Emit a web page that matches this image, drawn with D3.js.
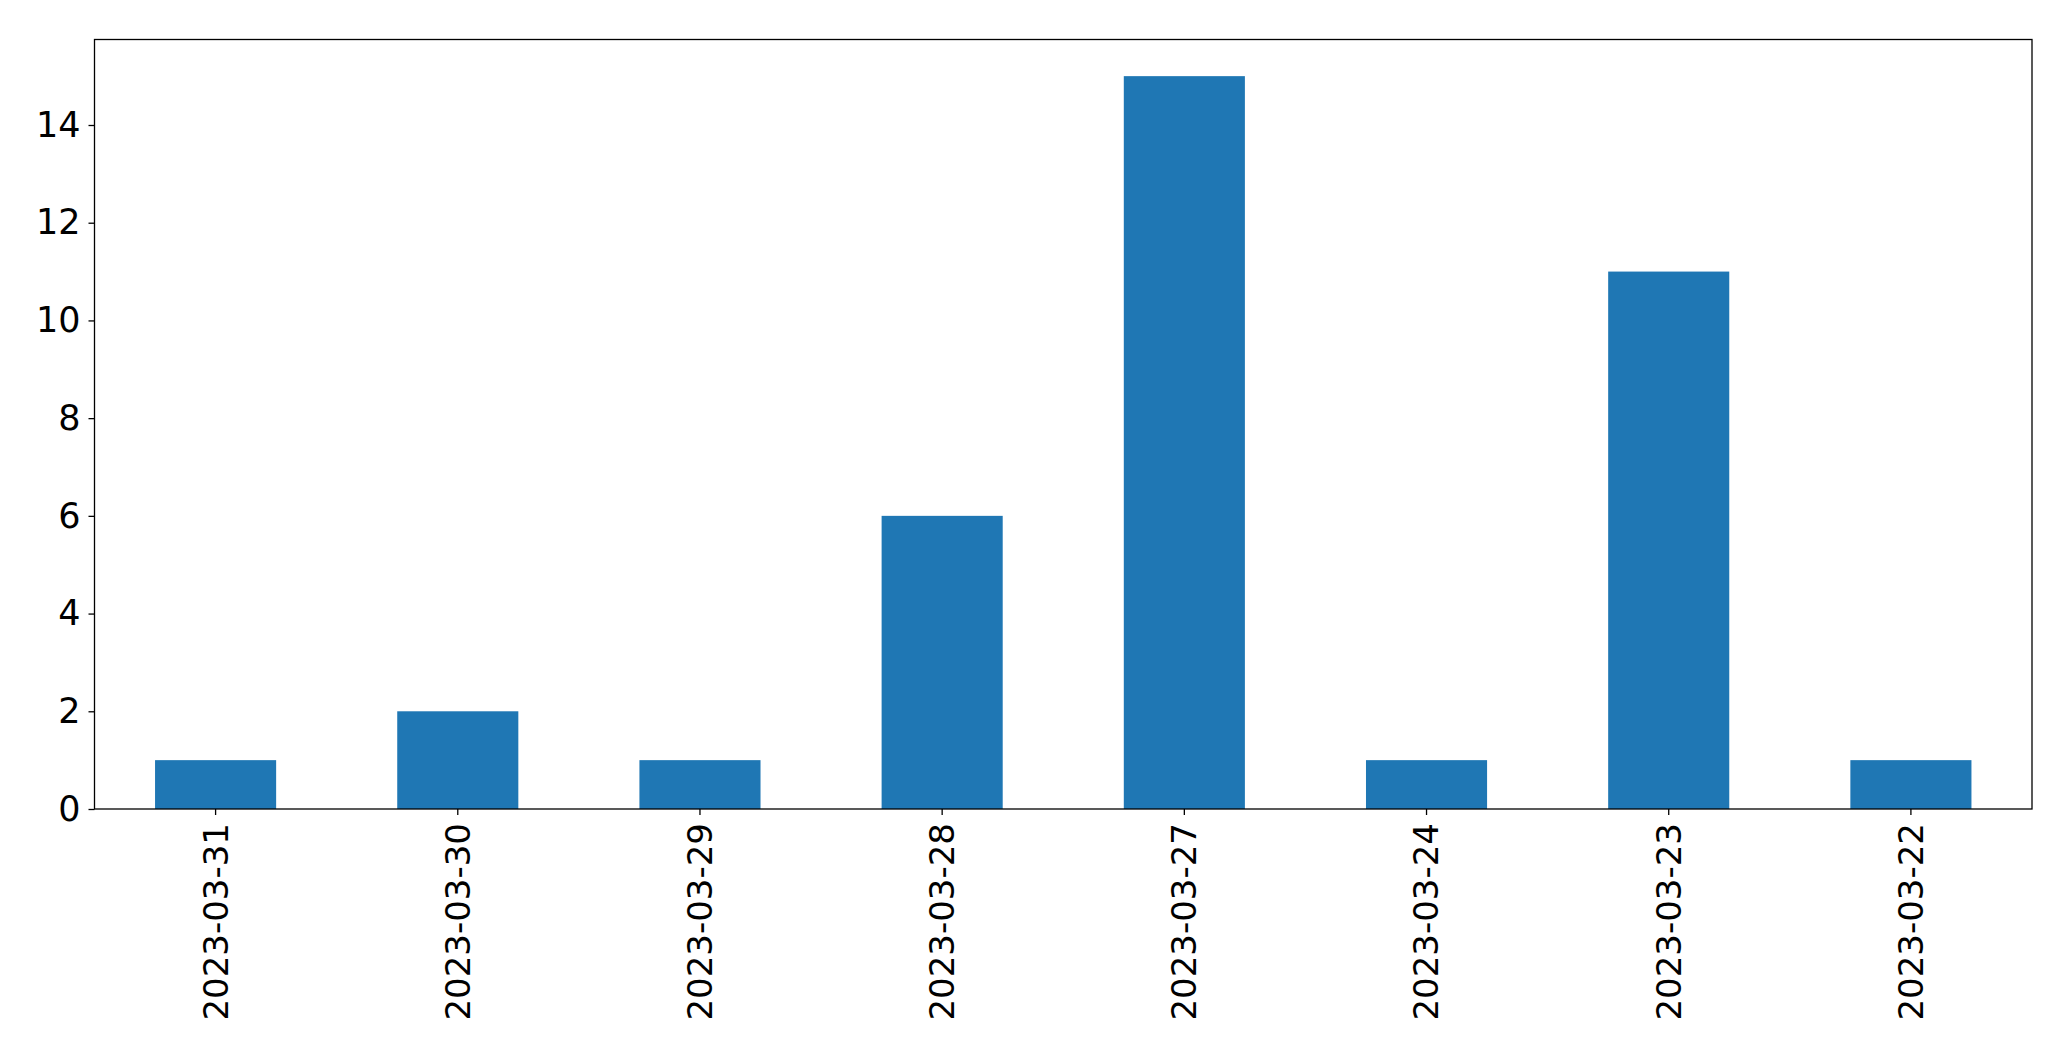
<!DOCTYPE html>
<html>
<head>
<meta charset="utf-8">
<script src="https://cdn.jsdelivr.net/npm/d3@7"></script>
<style>
  html, body { margin: 0; padding: 0; background: #fff; }
  svg { display: block; }
  text { font-family: "DejaVu Sans", sans-serif; fill: #000; }
</style>
</head>
<body>
<svg id="chart" width="2071" height="1061"></svg>
<script>
const categories = ["2023-03-31", "2023-03-30", "2023-03-29", "2023-03-28", "2023-03-27", "2023-03-24", "2023-03-23", "2023-03-22"];
const values = [1, 2, 1, 6, 15, 1, 11, 1];
const yTicks = [0, 2, 4, 6, 8, 10, 12, 14];

const plotLeft = 94.5, plotRight = 2032, plotTop = 39.5, plotBottom = 809;
const svg = d3.select("#chart");

const x = d3.scaleBand().domain(categories).range([plotLeft, plotRight]).paddingInner(0.5).paddingOuter(0.25);
const yMax = d3.max(values) * 1.05;
const y = d3.scaleLinear().domain([0, yMax]).range([plotBottom, plotTop]);

svg.append("g").selectAll("rect").data(values).join("rect")
  .attr("x", (d, i) => x(categories[i]))
  .attr("width", x.bandwidth())
  .attr("y", d => y(d))
  .attr("height", d => y(0) - y(d))
  .attr("fill", "#1f77b4");

const yAxis = svg.append("g").attr("transform", `translate(${plotLeft},0)`)
  .call(d3.axisLeft(y).tickValues(yTicks).tickFormat(d3.format("d")).tickSize(6).tickPadding(8));
const xAxis = svg.append("g").attr("transform", `translate(0,${plotBottom})`)
  .call(d3.axisBottom(x).tickSize(6).tickPadding(8));

[yAxis, xAxis].forEach(g => {
  g.select(".domain").remove();
  g.selectAll("line").attr("stroke", "#000").attr("stroke-width", 1.3);
  g.selectAll("text").attr("font-family", "DejaVu Sans, sans-serif").attr("fill", "#000");
});
yAxis.selectAll("text").attr("font-size", 35);

xAxis.selectAll("text")
  .attr("font-size", 34)
  .attr("text-anchor", "end")
  .attr("transform", "rotate(-90)")
  .attr("x", -14)
  .attr("y", 0)
  .attr("dy", "0.35em");

svg.append("rect")
  .attr("x", plotLeft).attr("y", plotTop)
  .attr("width", plotRight - plotLeft).attr("height", plotBottom - plotTop)
  .attr("fill", "none").attr("stroke", "#000").attr("stroke-width", 1.3);
</script>
</body>
</html>
